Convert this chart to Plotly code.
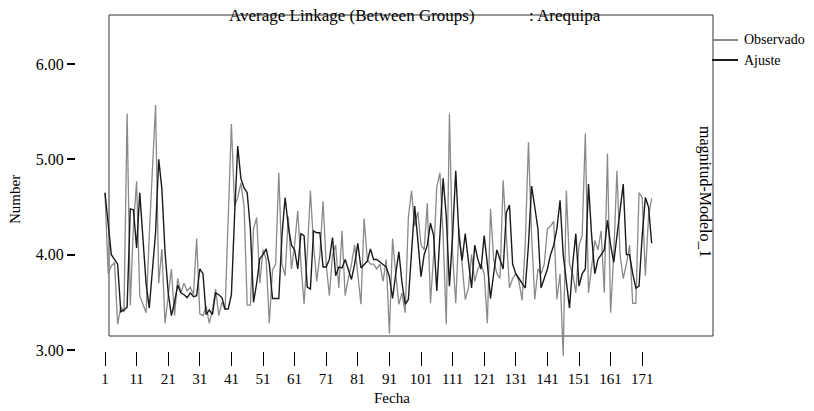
import plotly.graph_objects as go

# ---------------- data ----------------
observado = [
    4.65, 3.80, 3.88, 3.92, 3.27, 3.45, 3.40, 5.48, 3.47, 4.30,
    4.77, 3.57, 3.48, 3.39, 4.20, 4.90, 5.57, 3.70, 4.06, 3.28,
    3.60, 3.85, 3.36, 3.75, 3.60, 3.70, 3.62, 3.66, 3.58, 4.17,
    3.38, 3.36, 3.46, 3.28, 3.42, 3.64, 3.36, 3.50, 3.42, 4.40,
    5.37, 4.51, 4.60, 4.75, 4.51, 3.47, 3.47, 4.27, 4.39, 3.70,
    4.05, 3.95, 3.28, 3.84, 3.90, 4.86, 3.90, 3.78, 4.40, 3.85,
    4.10, 4.46, 3.90, 3.48, 4.00, 4.67, 4.10, 3.72, 4.00, 4.56,
    3.90, 3.57, 4.00, 4.10, 3.65, 4.25, 3.57, 3.75, 3.90, 4.10,
    3.80, 3.48, 4.38, 3.95, 3.90, 3.90, 3.85, 3.90, 3.72, 3.95,
    3.17, 4.17, 3.80, 3.48, 3.60, 3.39, 4.39, 4.67, 4.30, 4.45,
    4.10, 4.05, 4.54, 3.49, 4.00, 4.71, 4.86, 4.20, 3.27, 5.48,
    4.00, 3.49, 4.28, 3.90, 3.53, 3.65, 4.00, 3.72, 3.85, 3.90,
    3.80, 3.28, 4.48, 3.95, 3.80, 3.75, 4.78, 4.20, 3.65, 3.75,
    3.80, 3.72, 3.52, 4.12, 5.18, 4.20, 3.53, 3.85, 3.80, 3.90,
    4.27, 4.30, 4.35, 3.53, 3.80, 2.94, 4.67, 3.90, 3.80, 3.60,
    4.10, 4.20, 5.27, 3.60, 3.90, 4.15, 4.05, 4.25, 3.60, 5.06,
    3.39, 4.00, 4.88, 4.00, 3.75, 3.90, 4.10, 3.49, 3.49, 4.65,
    4.60, 3.78, 4.40, 4.59,
]
ajuste = [
    4.65, 4.30, 4.00, 3.95, 3.90, 3.40, 3.42, 3.45, 4.48, 4.47,
    4.07, 4.65, 4.15, 3.70, 3.44, 3.80, 4.23, 5.00, 4.69, 4.03,
    3.60, 3.36, 3.50, 3.68, 3.60, 3.58, 3.55, 3.60, 3.56, 3.57,
    3.85, 3.80, 3.37, 3.42, 3.37, 3.60, 3.58, 3.55, 3.43, 3.43,
    3.58, 4.40, 5.14, 4.80, 4.70, 4.65, 4.27, 3.50, 3.70, 3.96,
    4.00, 4.06, 3.90, 3.54, 3.54, 3.54, 4.20, 4.60, 4.30, 4.10,
    4.05, 3.85, 4.22, 4.20, 3.66, 3.64, 4.25, 4.23, 4.23, 3.87,
    3.87, 3.95, 4.18, 3.78, 3.87, 3.86, 3.95, 3.85, 3.74, 3.90,
    4.12, 3.86, 3.90, 3.93, 4.06, 3.95, 3.95, 3.92, 3.90, 3.87,
    3.77, 3.54, 3.80, 4.03, 3.70, 3.48, 3.53, 4.06, 4.51, 4.15,
    3.77, 4.00, 4.10, 4.33, 4.20, 3.62, 4.20, 4.80, 4.40, 3.67,
    4.20, 4.88, 4.20, 3.94, 4.22, 3.90, 3.65, 4.10, 3.95, 3.85,
    4.20, 3.90, 3.54, 3.80, 4.05, 3.95, 3.85, 4.44, 4.52, 3.90,
    3.80, 3.75, 3.70, 3.65, 4.10, 4.72, 4.50, 4.27, 3.65, 3.75,
    3.85, 4.00, 4.10, 4.27, 4.57, 4.00, 3.70, 3.44, 3.90, 4.22,
    3.67, 3.80, 3.85, 4.74, 4.20, 3.80, 3.95, 4.00, 4.05, 4.36,
    4.10, 3.92, 4.20, 4.50, 4.74, 4.00, 4.00, 3.80, 3.65, 3.67,
    4.20, 4.60, 4.50, 4.12,
]
fecha = list(range(1, len(observado) + 1))
x_ticks = list(range(1, 172, 10))
y_ticks = [3, 4, 5, 6]
y_ticktext = ["3.00", "4.00", "5.00", "6.00"]
series_names = ["Observado", "Ajuste"]
title_left = "Average Linkage (Between Groups)"
title_right = ": Arequipa"
right_label = "magnitud-Modelo_1"

# ---------------- geometry (pixels) ----------------
W, H = 814, 411
L, R, T, B = 76, 713, 15, 372          # plot area
BOX = (109, 15, 713, 336)              # decorative frame
X1_PX, XSTEP = 105, 3.16               # pixel of index 1, px per index
Y6_PX, Y3_PX = 64, 350                 # pixels of 6.00 and 3.00
XAXIS_PX = 351

ypu = (Y3_PX - Y6_PX) / 3.0
y_max = 6 + (Y6_PX - T) / ypu
y_min = 3 - (B - Y3_PX) / ypu
x_min = 1 - (X1_PX - L) / XSTEP
x_max = 1 + (R - X1_PX) / XSTEP


def px(xp):
    return (xp - L) / (R - L)


def py(yp):
    return (B - yp) / (B - T)


FONT = "Liberation Serif, Times New Roman, serif"
GRAY = "#8a8a8a"
BLACK = "#1a1a1a"

fig = go.Figure()
fig.add_trace(go.Scatter(x=fecha, y=observado, mode="lines", name=series_names[0],
                         line=dict(color=GRAY, width=1.3), showlegend=False))
fig.add_trace(go.Scatter(x=fecha, y=ajuste, mode="lines", name=series_names[1],
                         line=dict(color=BLACK, width=1.4), showlegend=False))

shapes = [
    dict(type="rect", xref="paper", yref="paper",
         x0=px(BOX[0]), x1=px(BOX[2]), y0=py(BOX[3]), y1=py(BOX[1]),
         line=dict(color="#333333", width=1), layer="below"),
    dict(type="line", xref="paper", yref="paper",
         x0=px(712), x1=px(738), y0=py(40), y1=py(40),
         line=dict(color=GRAY, width=2)),
    dict(type="line", xref="paper", yref="paper",
         x0=px(712), x1=px(738), y0=py(60), y1=py(60),
         line=dict(color=BLACK, width=2)),
]

ann_font = dict(family=FONT, size=15, color="#000000")
annotations = [
    dict(text=title_left, xref="paper", yref="paper", x=px(227), y=py(15),
         xanchor="left", yanchor="middle", showarrow=False, font=dict(family=FONT, size=17, color="#000")),
    dict(text=title_right, xref="paper", yref="paper", x=px(527), y=py(15),
         xanchor="left", yanchor="middle", showarrow=False, font=dict(family=FONT, size=17, color="#000")),
    dict(text=series_names[0], xref="paper", yref="paper", x=px(742), y=py(40),
         xanchor="left", yanchor="middle", showarrow=False, font=dict(family=FONT, size=14, color="#000")),
    dict(text=series_names[1], xref="paper", yref="paper", x=px(742), y=py(60),
         xanchor="left", yanchor="middle", showarrow=False, font=dict(family=FONT, size=14, color="#000")),
    dict(text=right_label, xref="paper", yref="paper", x=px(705), y=py(192),
         xanchor="center", yanchor="middle", textangle=90, showarrow=False,
         font=dict(family=FONT, size=16, color="#000")),
    dict(text="Number", xref="paper", yref="paper", x=px(15), y=py(200),
         xanchor="center", yanchor="middle", textangle=-90, showarrow=False, font=ann_font),
    dict(text="Fecha", xref="paper", yref="paper", x=px(392), y=py(398),
         xanchor="center", yanchor="middle", showarrow=False, font=ann_font),
]

fig.update_layout(
    width=W, height=H,
    margin=dict(l=L, r=W - R, t=T, b=H - B, pad=0),
    paper_bgcolor="white", plot_bgcolor="white",
    shapes=shapes, annotations=annotations,
    xaxis=dict(range=[x_min, x_max], anchor="free", position=py(XAXIS_PX),
               tickmode="array", tickvals=x_ticks, ticktext=[str(v) for v in x_ticks],
               ticks="outside", ticklen=14, tickwidth=1, tickcolor="#000",
               showgrid=False, zeroline=False, showline=False,
               tickfont=dict(family=FONT, size=15, color="#000")),
    yaxis=dict(range=[y_min, y_max],
               tickmode="array", tickvals=y_ticks, ticktext=y_ticktext,
               ticks="outside", ticklen=8, tickwidth=1.5, tickcolor="#000",
               showgrid=False, zeroline=False, showline=False,
               tickfont=dict(family=FONT, size=16, color="#000")),
    showlegend=False,
)

fig.write_html("out.html")
